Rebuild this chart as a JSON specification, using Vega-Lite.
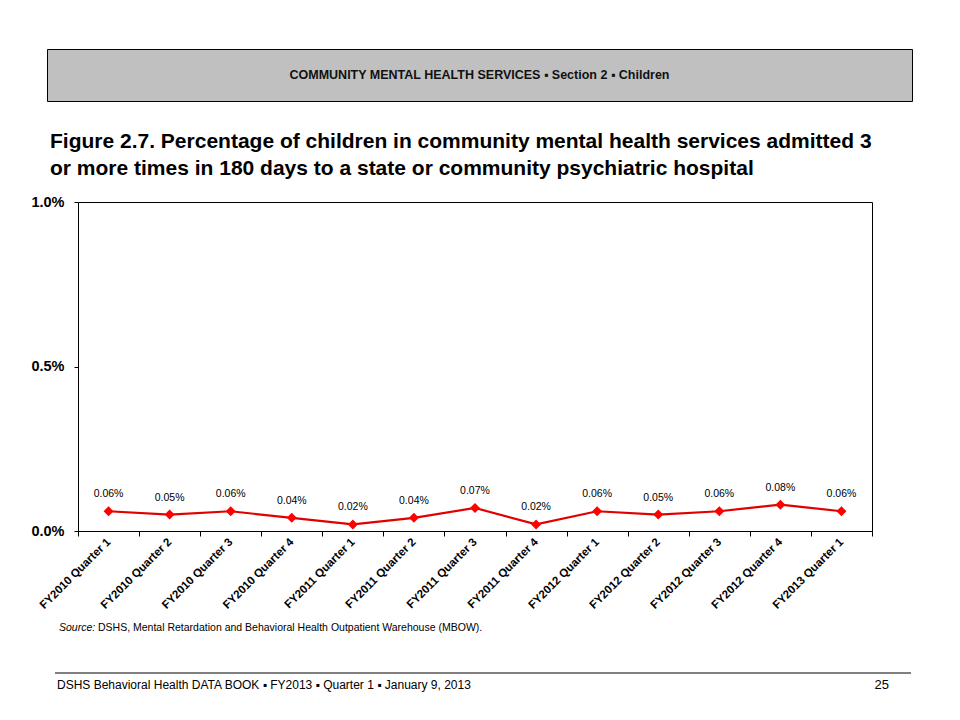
{
  "$schema": "https://vega.github.io/schema/vega-lite/v6.json",
  "padding": {"left": 30, "top": 48, "right": 0, "bottom": 0},
  "background": "white",
  "bounds": "flush",
  "spacing": 101,
  "config": {"font": "Liberation Sans", "view": {"stroke": null}},
  "vconcat": [
    {
      "width": 865,
      "height": 52,
      "view": {"fill": "#c0c0c0", "stroke": "black", "strokeWidth": 1},
      "data": {"values": [{"t": "COMMUNITY MENTAL HEALTH SERVICES  ▪  Section 2  ▪  Children"}]},
      "mark": {"type": "text", "fontSize": 12.5, "fontWeight": "bold", "color": "#111111"},
      "encoding": {"text": {"field": "t"}}
    },
    {
      "width": 825,
      "height": 329,
      "title": {
        "text": ["Figure 2.7.  Percentage of children in community mental health services admitted 3", "or more times in 180 days to a state or community psychiatric hospital"],
        "anchor": "start",
        "frame": "group",
        "fontSize": 21,
        "fontWeight": "bold",
        "color": "black",
        "lineHeight": 27,
        "offset": 15,
        "dx": 3
      },
      "data": {
        "values": [
          {"period": "FY2010 Quarter 1", "pct": 0.0006},
          {"period": "FY2010 Quarter 2", "pct": 0.0005},
          {"period": "FY2010 Quarter 3", "pct": 0.0006},
          {"period": "FY2010 Quarter 4", "pct": 0.0004},
          {"period": "FY2011 Quarter 1", "pct": 0.0002},
          {"period": "FY2011 Quarter 2", "pct": 0.0004},
          {"period": "FY2011 Quarter 3", "pct": 0.0007},
          {"period": "FY2011 Quarter 4", "pct": 0.0002},
          {"period": "FY2012 Quarter 1", "pct": 0.0006},
          {"period": "FY2012 Quarter 2", "pct": 0.0005},
          {"period": "FY2012 Quarter 3", "pct": 0.0006},
          {"period": "FY2012 Quarter 4", "pct": 0.0008},
          {"period": "FY2013 Quarter 1", "pct": 0.0006}
        ]
      },
      "layer": [
        {
          "mark": {"type": "line", "color": "#e00000", "strokeWidth": 2.2},
          "encoding": {
            "x": {
              "field": "period", "type": "nominal", "sort": null,
              "scale": {"range": [31, 825], "paddingInner": 0, "paddingOuter": 0},
              "axis": {"orient": "bottom", "labelAngle": -45, "labelAlign": "right", "labelBaseline": "middle", "labelFontSize": 11.5, "labelFontWeight": "bold", "labelColor": "black", "tickBand": "extent", "tickSize": 5, "tickColor": "black", "domainColor": "black", "labelPadding": 4, "title": null, "grid": false}
            },
            "y": {
              "field": "pct", "type": "quantitative",
              "scale": {"domain": [0, 0.01], "nice": false},
              "axis": {"orient": "left", "offset": -31, "values": [0, 0.005, 0.01], "format": ".1%", "labelFontSize": 14.5, "labelFontWeight": "bold", "labelColor": "black", "domainColor": "black", "tickColor": "black", "tickSize": 4, "labelPadding": 10, "title": null, "grid": false}
            }
          }
        },
        {
          "mark": {"type": "point", "shape": "diamond", "filled": true, "color": "#ff0000", "size": 100, "opacity": 1},
          "encoding": {
            "x": {
              "field": "period", "type": "nominal", "sort": null,
              "axis": {"orient": "top", "labels": false, "ticks": false, "domain": true, "domainColor": "black", "title": null, "grid": false}
            },
            "y": {
              "field": "pct", "type": "quantitative",
              "axis": {"orient": "right", "labels": false, "ticks": false, "domain": true, "domainColor": "black", "title": null, "grid": false}
            }
          }
        },
        {
          "mark": {"type": "text", "dy": -17, "fontSize": 10.5, "color": "black"},
          "encoding": {
            "x": {"field": "period", "type": "nominal", "sort": null, "axis": null},
            "y": {"field": "pct", "type": "quantitative", "axis": null},
            "text": {"field": "pct", "format": ".2%"}
          }
        }
      ],
      "resolve": {"axis": {"x": "independent", "y": "independent"}}
    },
    {
      "width": 865,
      "height": 41,
      "data": {"values": [{"k": 1}]},
      "layer": [
        {
          "mark": {"type": "rule", "color": "black", "strokeWidth": 1},
          "encoding": {
            "x": {"datum": 0, "type": "quantitative", "scale": {"domain": [0, 1], "range": [8, 864]}, "axis": null},
            "x2": {"datum": 1},
            "y": {"datum": 0, "type": "quantitative", "scale": {"domain": [0, 1]}, "axis": null}
          }
        },
        {
          "mark": {"type": "text", "align": "left", "baseline": "middle", "dx": 4, "dy": -4, "fontSize": 10.5, "fontStyle": "italic", "color": "black"},
          "encoding": {
            "x": {"datum": 0, "type": "quantitative", "axis": null},
            "y": {"datum": 1, "type": "quantitative", "axis": null},
            "text": {"value": "Source:"}
          }
        },
        {
          "mark": {"type": "text", "align": "left", "baseline": "middle", "dx": 43, "dy": -4, "fontSize": 10.5, "color": "black"},
          "encoding": {
            "x": {"datum": 0, "type": "quantitative", "axis": null},
            "y": {"datum": 1, "type": "quantitative", "axis": null},
            "text": {"value": "DSHS, Mental Retardation and Behavioral Health Outpatient Warehouse (MBOW)."}
          }
        },
        {
          "mark": {"type": "text", "align": "left", "baseline": "middle", "dx": 2, "dy": 12, "fontSize": 12, "color": "black"},
          "encoding": {
            "x": {"datum": 0, "type": "quantitative", "axis": null},
            "y": {"datum": 0, "type": "quantitative", "axis": null},
            "text": {"value": "DSHS Behavioral Health DATA BOOK  ▪  FY2013  ▪  Quarter 1 ▪  January  9, 2013"}
          }
        },
        {
          "mark": {"type": "text", "align": "right", "baseline": "middle", "dx": -22, "dy": 12, "fontSize": 13, "color": "black"},
          "encoding": {
            "x": {"datum": 1, "type": "quantitative", "axis": null},
            "y": {"datum": 0, "type": "quantitative", "axis": null},
            "text": {"value": "25"}
          }
        }
      ]
    }
  ]
}
